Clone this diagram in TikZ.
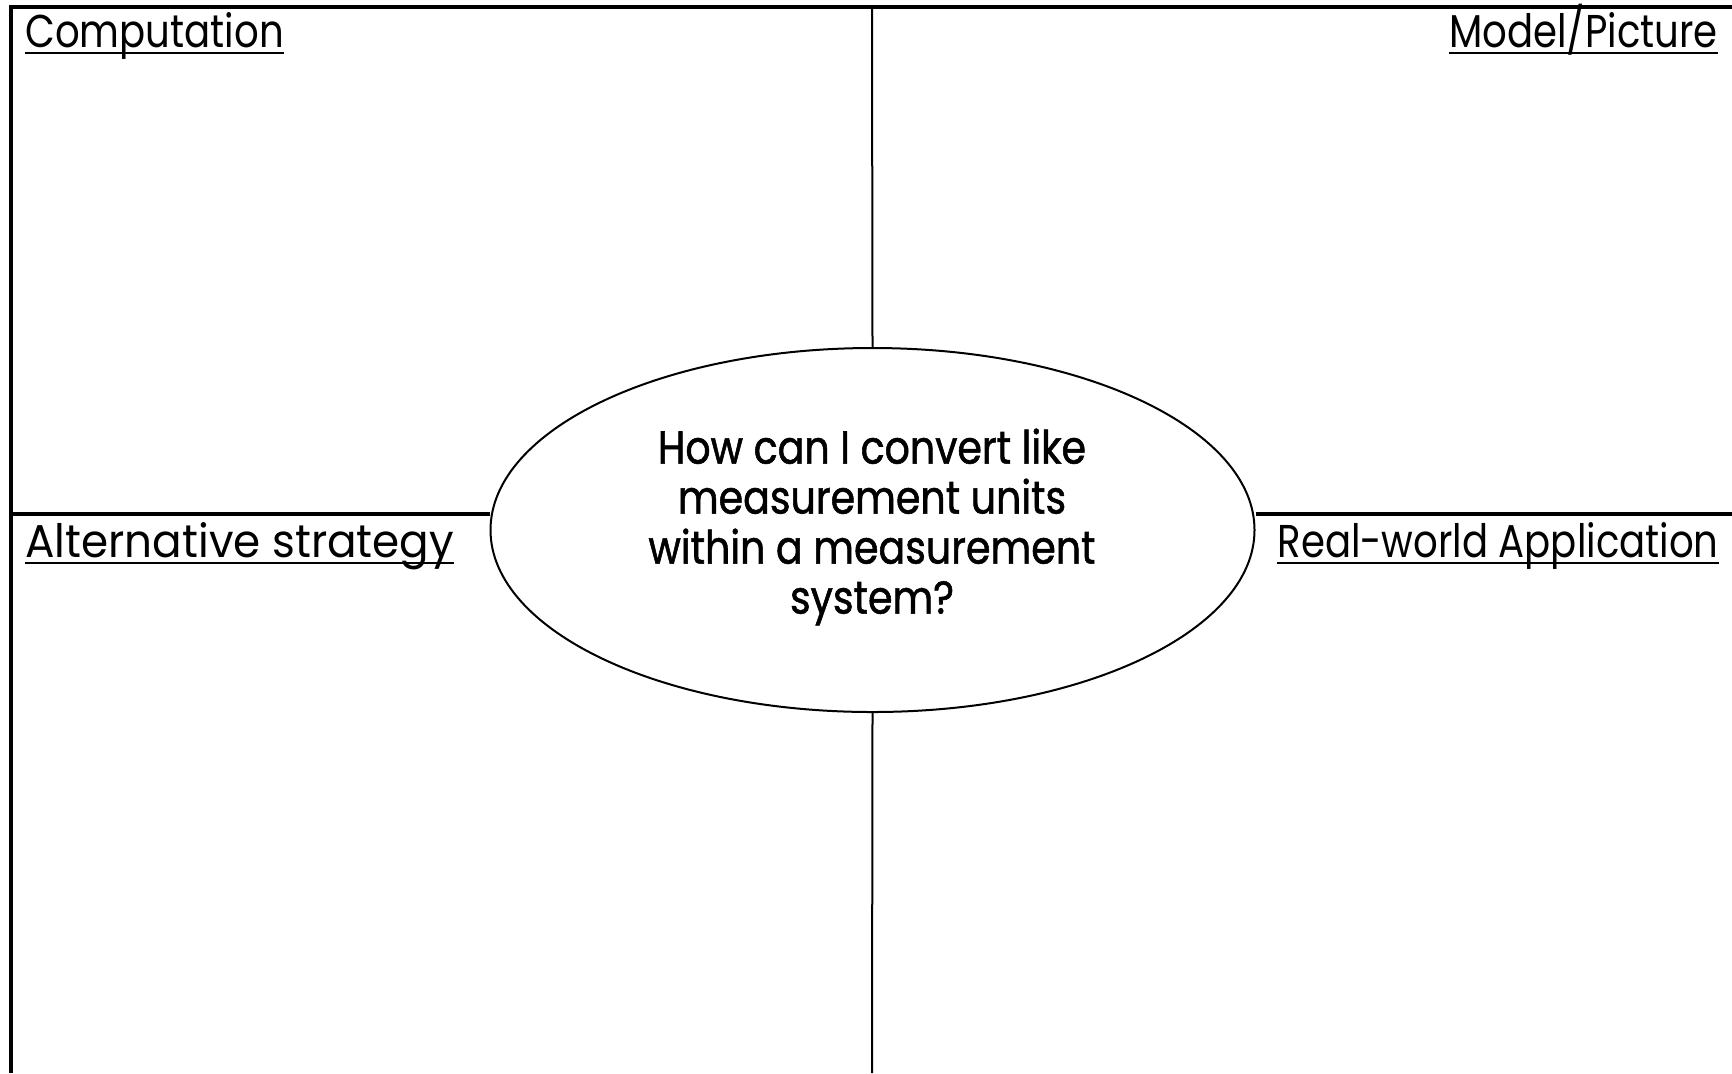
\documentclass[tikz,border=0pt]{standalone}
\usepackage{fontspec}
\setmainfont[FakeStretch=0.84]{Poppins}
\newfontfamily\qfont[FakeStretch=0.86,FakeBold=1.2]{Poppins}
\newfontfamily\widefont[FakeStretch=0.95]{Poppins}
\usetikzlibrary{shapes.geometric}
\tikzset{
  heavy/.style={line width=2pt},
  midline/.style={line width=1.7pt},
  thin/.style={line width=1pt},
  label/.style={inner sep=0pt, font=\fontsize{23}{25}\selectfont},
  uline/.style={line width=1pt},
  question/.style={inner sep=0pt, align=center, font=\qfont\fontsize{23}{25}\selectfont},
}
\begin{document}
\begin{tikzpicture}[x=0.5pt,y=-0.5pt]
\useasboundingbox (0,0) rectangle (1732,1073);
% frame corners
\coordinate (tl) at (11,7);
\coordinate (tr) at (1732,7);
\coordinate (bl) at (11,1073);
\coordinate (ml) at (11,514);
\coordinate (mr) at (1732,514);
\coordinate (vt) at (872,7);
\coordinate (vb) at (872,1073);
\node[ellipse, draw, thin, minimum width=382pt, minimum height=182pt, inner sep=0pt] (q) at (872.5,530) {};
\draw[heavy] (tr) -- (tl) -- (bl);
\draw[midline] (ml) -- (q.west |- ml);
\draw[midline] (q.east |- mr) -- (mr);
\draw[thin] (vt) -- (q.north);
\draw[thin] (q.south) -- (vb);
% labels
\node[label, anchor=base west] (comp) at (25,47) {Computation};
\node[label, anchor=base east] (model) at (1718,47) {Model/Picture};
\node[label, anchor=base west, font=\widefont\fontsize{23}{25}\selectfont] (alt) at (25,557) {Alternative strategy};
\node[label, anchor=base east] (real) at (1719,557) {Real-world Application};
\foreach \n in {comp,model,alt,real}
  \draw[uline] ([yshift=-3pt]\n.base west) -- ([yshift=-3pt]\n.base east);
\node[question] (qt) at (872,527) {How can I convert like\\measurement units\\within a measurement\\system?};
\end{tikzpicture}
\end{document}
